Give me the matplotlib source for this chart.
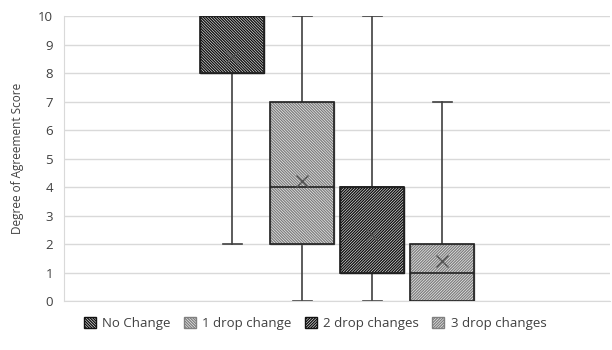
import matplotlib.pyplot as plt
from matplotlib.patches import Patch, PathPatch

# donnees
groupes = ["No Change", "1 drop change", "2 drop changes", "3 drop changes"]
minimum = [2, 0, 0, 0]
q1 = [8, 2, 1, 0]
mediane = [10, 4, 4, 1]
q3 = [10, 7, 4, 2]
maximum = [10, 10, 10, 7]
moyenne = [8.55, 4.2, 2.3, 1.4]

hachures = ["\\" * 12, "\\" * 12, "/" * 12, "/" * 12]
couleur_hachure = ["#111111", "#808080", "#111111", "#808080"]

plt.rcParams['font.family'] = ['Open Sans', 'DejaVu Sans']
plt.rcParams['hatch.linewidth'] = 1.0

fig = plt.figure(figsize=(6.12, 3.5), dpi=100)
ax = fig.add_axes([0.1046, 0.14, 0.8925, 0.814])

stats = []
for i in range(len(groupes)):
    stats.append({"label": groupes[i], "whislo": minimum[i], "q1": q1[i],
                  "med": mediane[i], "q3": q3[i], "whishi": maximum[i],
                  "mean": moyenne[i], "fliers": []})

pos = [1, 2, 3, 4]
bp = ax.bxp(stats, positions=pos, widths=0.91, patch_artist=True,
            showmeans=True, showcaps=True,
            whiskerprops=dict(linewidth=1.2, color="#404040"),
            capprops=dict(linewidth=1.2, color="#404040"),
            medianprops=dict(linewidth=1.2, color="#222222", zorder=5),
            meanprops=dict(marker="x", markersize=8, markeredgecolor="#555555",
                           markeredgewidth=1.0, zorder=5),
            capwidths=0.27)

for i, b in enumerate(bp["boxes"]):
    b.set_facecolor("white")
    b.set_hatch(hachures[i])
    b.set_edgecolor(couleur_hachure[i])
    b.set_zorder(3)
    # contour noir par-dessus
    contour = PathPatch(b.get_path(), facecolor="none", edgecolor="#222222",
                        linewidth=1.2, zorder=4)
    ax.add_patch(contour)

ax.set_xlim(-1.4, 6.4)
ax.set_ylim(0, 10)
ax.set_yticks(range(0, 11))
ax.set_xticks([])
ax.yaxis.grid(True, color="#d9d9d9", linewidth=1.0, zorder=0)
ax.set_axisbelow(True)
for s in ["top", "right"]:
    ax.spines[s].set_visible(False)
ax.spines["left"].set_color("#d9d9d9")
ax.spines["bottom"].set_color("#d9d9d9")
ax.tick_params(axis="y", length=0, labelsize=9.5, labelcolor="#404040", pad=8)
ax.set_ylabel("Degree of Agreement Score", fontsize=8.5, color="#404040", labelpad=10)

poignees = []
for i in range(len(groupes)):
    p = Patch(facecolor="white", edgecolor=couleur_hachure[i], hatch=hachures[i],
              label=groupes[i])
    poignees.append(p)
fig.legend(handles=poignees, loc="center", bbox_to_anchor=(0.515, 0.075), ncol=4,
           frameon=False, fontsize=9.5, handlelength=0.9, handleheight=0.9,
           handletextpad=0.5, columnspacing=1.0, labelcolor="#404040")

plt.savefig("out.png", dpi=100)
